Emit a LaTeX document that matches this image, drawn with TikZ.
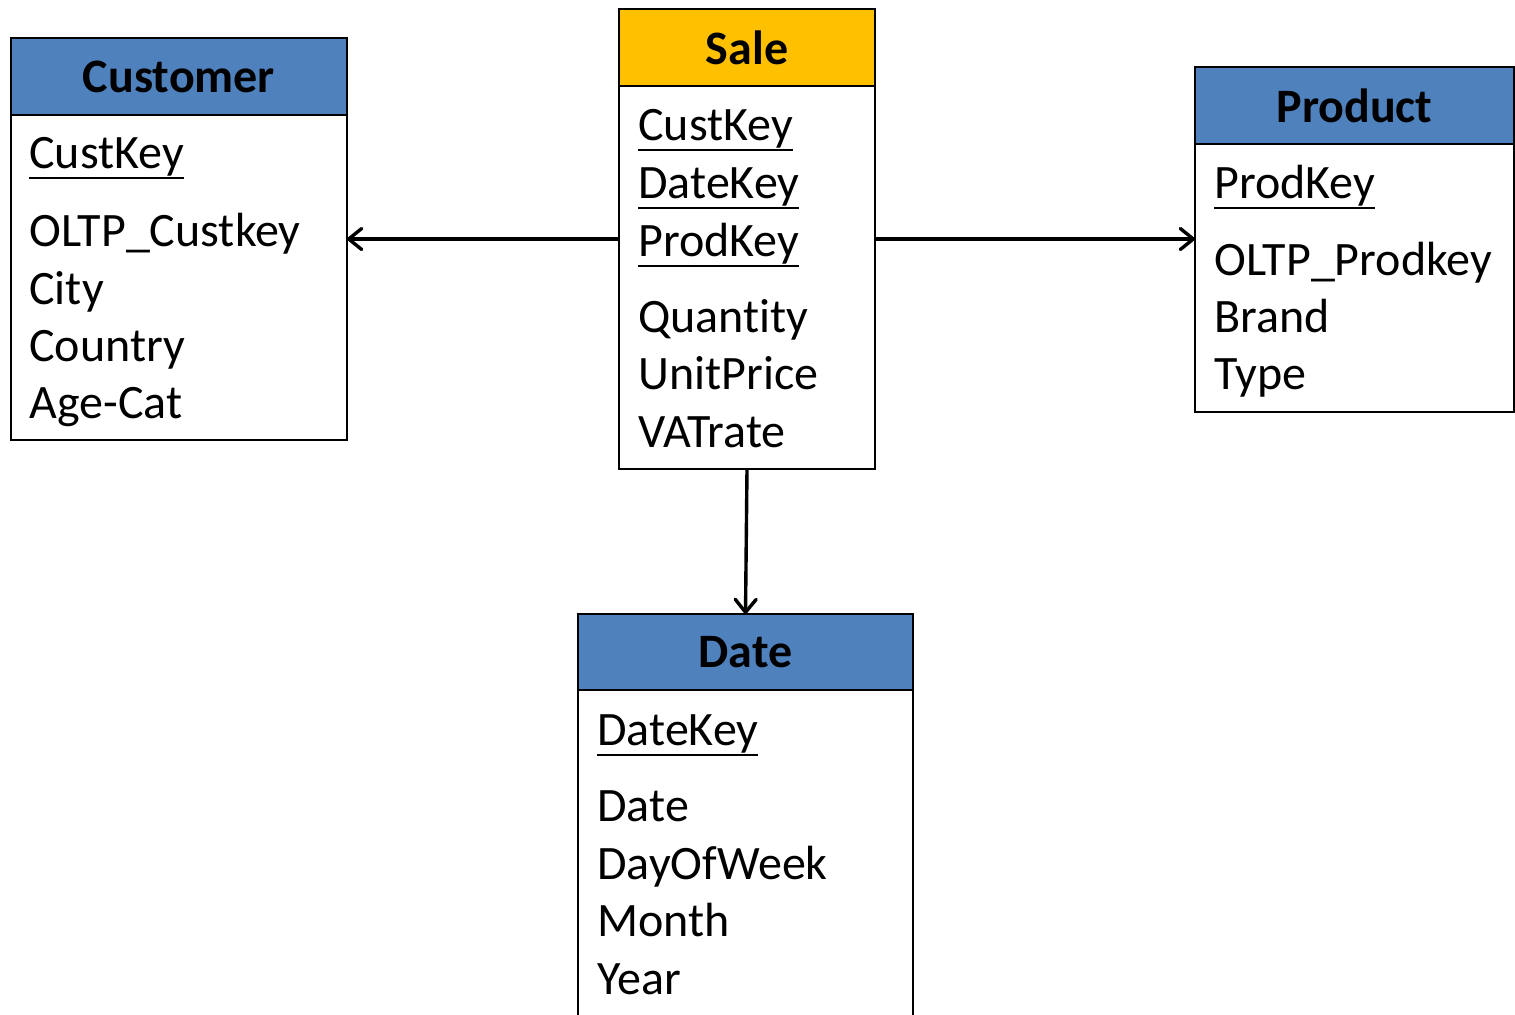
\documentclass[tikz,border=0pt]{standalone}
\usepackage{fontspec}
\setmainfont{Carlito}[Ligatures=CommonOff]
\usetikzlibrary{positioning}
\usetikzlibrary{arrows.meta}

\definecolor{headblue}{HTML}{4F81BD}
\definecolor{headgold}{HTML}{FFC000}
\newcommand{\pkey}[1]{\setbox0\hbox{#1}\rlap{\rule[-5.6pt]{\wd0}{1.3pt}}\box0}

\begin{document}
\begin{tikzpicture}[x=0.5pt, y=-0.5pt, >={Straight Barb[length=6.5pt,width=10.5pt,round]},
  table head/.style={draw, line width=1.3pt, outer sep=0pt, inner sep=0pt,
    fill=headblue, minimum height=38.5pt, font=\fontsize{24}{28}\selectfont\bfseries},
  table body/.style={draw, line width=1.3pt, outer sep=0pt, inner sep=0pt, fill=white},
  field/.style={anchor=base west, inner sep=0pt, font=\fontsize{24}{28}\selectfont},
  link/.style={->, line width=1.7pt}]%

\useasboundingbox (0,0) rectangle (1515,1014);
\clip (0,0) rectangle (1515,1014);

% dimension tables and fact table
\node [table head, minimum width=168pt] (cust-head) at (179,76.5) {Customer};
\node [table body, minimum width=168pt, minimum height=162.5pt, below=0pt of cust-head] (cust-body) {};

\node [table head, fill=headgold, minimum width=128pt] (sale-head) at (747,47.5) {Sale};
\node [table body, minimum width=128pt, minimum height=191.5pt, below=0pt of sale-head] (sale-body) {};

\node [table head, minimum width=159.5pt] (prod-head) at (1354.5,105.5) {Product};
\node [table body, minimum width=159.5pt, minimum height=134pt, below=0pt of prod-head] (prod-body) {};

\node [table head, minimum width=167.5pt, minimum height=38pt] (date-head) at (745.5,652) {Date};
\node [table body, minimum width=167.5pt, minimum height=185pt, below=0pt of date-head] (date-body) {};

% attributes
\foreach \t/\y [count=\i] in {{\pkey{CustKey}}/168, OLTP\_Custkey/246, City/304, Country/361, Age-Cat/418}
  \node [field] (cust-\i) at (29,\y) {\t};

\foreach \t/\y [count=\i] in {{\pkey{CustKey}}/140, {\pkey{DateKey}}/198, {\pkey{ProdKey}}/256,
    Quantity/332, UnitPrice/389, VATrate/447}
  \node [field] (sale-\i) at (638,\y) {\t};

\foreach \t/\y [count=\i] in {{\pkey{ProdKey}}/198, OLTP\_Prodkey/275, Brand/332, Type/389}
  \node [field] (prod-\i) at (1214,\y) {\t};

\foreach \t/\y [count=\i] in {{\pkey{DateKey}}/745, Date/821, DayOfWeek/879, Month/936, Year/994}
  \node [field] (date-\i) at (597,\y) {\t};

% links
\coordinate (hub) at (747,239);
\draw [link] (sale-body.west |- hub) -- (cust-body.east |- hub);
\draw [link] (sale-body.east |- hub) -- (prod-body.west |- hub);
\draw [link] (sale-body.south) -- (date-head.north);

\end{tikzpicture}
\end{document}
